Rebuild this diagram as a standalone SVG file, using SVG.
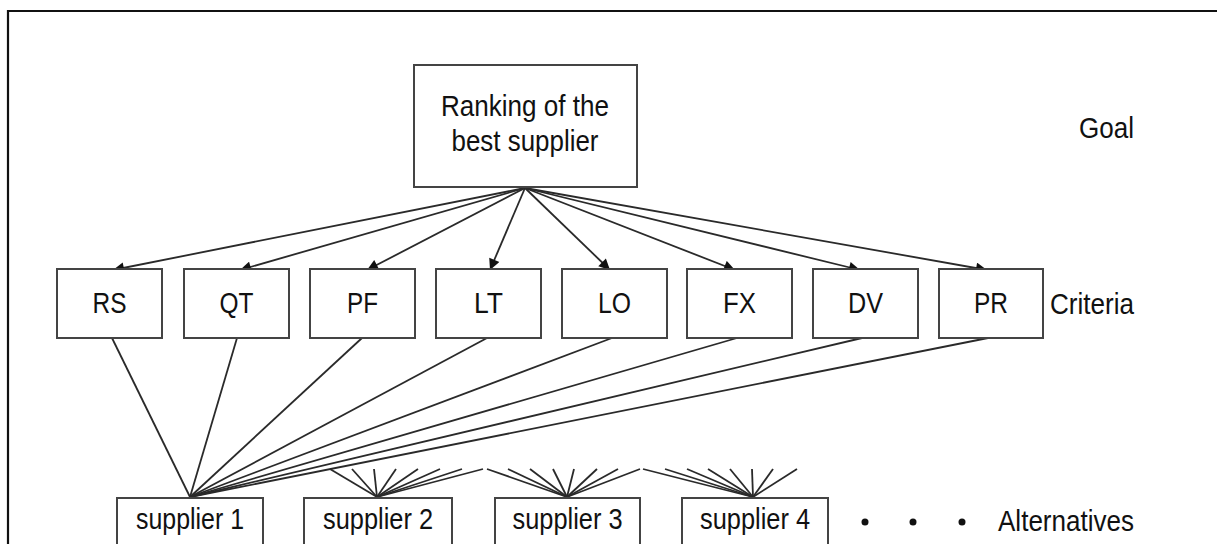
<svg xmlns="http://www.w3.org/2000/svg" width="1217" height="544" viewBox="0 0 1217 544">
<defs>
<style>
.box{fill:#fff;stroke:#444;stroke-width:2}
.t{font-family:"Liberation Sans",Arial,sans-serif;font-size:29px;fill:#111;text-anchor:middle}
.lbl{font-family:"Liberation Sans",Arial,sans-serif;font-size:29px;fill:#111;text-anchor:end}
.ln{stroke:#2a2a2a;stroke-width:1.8;fill:none}
.arr{stroke:#2a2a2a;stroke-width:1.8;fill:none;marker-end:url(#ah)}
</style>
<marker id="ah" viewBox="0 0 10 10" refX="10" refY="5" markerWidth="13" markerHeight="11" markerUnits="userSpaceOnUse" orient="auto">
<path d="M0,0 L10,5 L0,10 z" fill="#111"/>
</marker>
</defs>
<rect width="1217" height="544" fill="#fff"/>
<path d="M8,550 V11 H1220" fill="none" stroke="#111" stroke-width="2.2"/>

<g id="connectors">
<g id="goal-arrows">
<line class="arr" x1="525" y1="188" x2="113" y2="270"/>
<line class="arr" x1="525" y1="188" x2="240" y2="270"/>
<line class="arr" x1="525" y1="188" x2="367" y2="270"/>
<line class="arr" x1="525" y1="188" x2="490" y2="270"/>
<line class="arr" x1="525" y1="188" x2="610" y2="270"/>
<line class="arr" x1="525" y1="188" x2="735" y2="270"/>
<line class="arr" x1="525" y1="188" x2="860" y2="270"/>
<line class="arr" x1="525" y1="188" x2="987" y2="270"/>
</g>
<g id="supplier1-lines">
<line class="ln" x1="112" y1="338" x2="190" y2="497"/>
<line class="ln" x1="237" y1="338" x2="190" y2="497"/>
<line class="ln" x1="362" y1="338" x2="190" y2="497"/>
<line class="ln" x1="487" y1="338" x2="190" y2="497"/>
<line class="ln" x1="612" y1="338" x2="190" y2="497"/>
<line class="ln" x1="737" y1="338" x2="190" y2="497"/>
<line class="ln" x1="862" y1="338" x2="190" y2="497"/>
<line class="ln" x1="988" y1="338" x2="190" y2="497"/>
</g>
<g id="supplier2-fan">
<line class="ln" x1="330" y1="469" x2="377" y2="497"/>
<line class="ln" x1="352" y1="469" x2="377" y2="497"/>
<line class="ln" x1="374" y1="469" x2="377" y2="497"/>
<line class="ln" x1="396" y1="469" x2="377" y2="497"/>
<line class="ln" x1="418" y1="469" x2="377" y2="497"/>
<line class="ln" x1="440" y1="469" x2="377" y2="497"/>
<line class="ln" x1="462" y1="469" x2="377" y2="497"/>
<line class="ln" x1="483" y1="469" x2="377" y2="497"/>
</g>
<g id="supplier3-fan">
<line class="ln" x1="487" y1="469" x2="567" y2="497"/>
<line class="ln" x1="508" y1="469" x2="567" y2="497"/>
<line class="ln" x1="530" y1="469" x2="567" y2="497"/>
<line class="ln" x1="553" y1="469" x2="567" y2="497"/>
<line class="ln" x1="574" y1="469" x2="567" y2="497"/>
<line class="ln" x1="597" y1="469" x2="567" y2="497"/>
<line class="ln" x1="618" y1="469" x2="567" y2="497"/>
<line class="ln" x1="640" y1="469" x2="567" y2="497"/>
</g>
<g id="supplier4-fan">
<line class="ln" x1="643" y1="469" x2="753" y2="497"/>
<line class="ln" x1="665" y1="469" x2="753" y2="497"/>
<line class="ln" x1="687" y1="469" x2="753" y2="497"/>
<line class="ln" x1="708" y1="469" x2="753" y2="497"/>
<line class="ln" x1="730" y1="469" x2="753" y2="497"/>
<line class="ln" x1="752" y1="469" x2="753" y2="497"/>
<line class="ln" x1="773" y1="469" x2="753" y2="497"/>
<line class="ln" x1="797" y1="469" x2="753" y2="497"/>
</g>
</g>

<g id="goal">
<rect class="box" x="414" y="65" width="223" height="122"/>
<text class="t" x="525" y="116" textLength="168" lengthAdjust="spacingAndGlyphs">Ranking of the</text>
<text class="t" x="525" y="151" textLength="147" lengthAdjust="spacingAndGlyphs">best supplier</text>
</g>

<g id="crit-RS"><rect class="box" x="57" y="269" width="105" height="69"/><text class="t" x="109.5" y="313" textLength="34" lengthAdjust="spacingAndGlyphs">RS</text></g>
<g id="crit-QT"><rect class="box" x="184" y="269" width="105" height="69"/><text class="t" x="236.5" y="313" textLength="34" lengthAdjust="spacingAndGlyphs">QT</text></g>
<g id="crit-PF"><rect class="box" x="310" y="269" width="105" height="69"/><text class="t" x="362.5" y="313" textLength="31" lengthAdjust="spacingAndGlyphs">PF</text></g>
<g id="crit-LT"><rect class="box" x="436" y="269" width="105" height="69"/><text class="t" x="488.5" y="313" textLength="29" lengthAdjust="spacingAndGlyphs">LT</text></g>
<g id="crit-LO"><rect class="box" x="562" y="269" width="105" height="69"/><text class="t" x="614.5" y="313" textLength="33" lengthAdjust="spacingAndGlyphs">LO</text></g>
<g id="crit-FX"><rect class="box" x="687" y="269" width="105" height="69"/><text class="t" x="739.5" y="313" textLength="33" lengthAdjust="spacingAndGlyphs">FX</text></g>
<g id="crit-DV"><rect class="box" x="813" y="269" width="105" height="69"/><text class="t" x="865.5" y="313" textLength="35" lengthAdjust="spacingAndGlyphs">DV</text></g>
<g id="crit-PR"><rect class="box" x="939" y="269" width="104" height="69"/><text class="t" x="991" y="313" textLength="34" lengthAdjust="spacingAndGlyphs">PR</text></g>

<g id="sup-1"><rect class="box" x="117" y="498" width="146" height="60"/><text class="t" x="190" y="529" textLength="108" lengthAdjust="spacingAndGlyphs">supplier 1</text></g>
<g id="sup-2"><rect class="box" x="304" y="498" width="148" height="60"/><text class="t" x="378" y="529" textLength="110" lengthAdjust="spacingAndGlyphs">supplier 2</text></g>
<g id="sup-3"><rect class="box" x="495" y="498" width="145" height="60"/><text class="t" x="567.5" y="529" textLength="110" lengthAdjust="spacingAndGlyphs">supplier 3</text></g>
<g id="sup-4"><rect class="box" x="682" y="498" width="146" height="60"/><text class="t" x="755" y="529" textLength="110" lengthAdjust="spacingAndGlyphs">supplier 4</text></g>

<g id="dots" fill="#111">
<circle cx="865" cy="522" r="3.5"/>
<circle cx="913" cy="522" r="3.5"/>
<circle cx="962" cy="522" r="3.5"/>
</g>

<g id="levels">
<text class="lbl" x="1134" y="138" textLength="55" lengthAdjust="spacingAndGlyphs">Goal</text>
<text class="lbl" x="1134" y="314" textLength="84" lengthAdjust="spacingAndGlyphs">Criteria</text>
<text class="lbl" x="1134" y="531" textLength="136" lengthAdjust="spacingAndGlyphs">Alternatives</text>
</g>
</svg>
